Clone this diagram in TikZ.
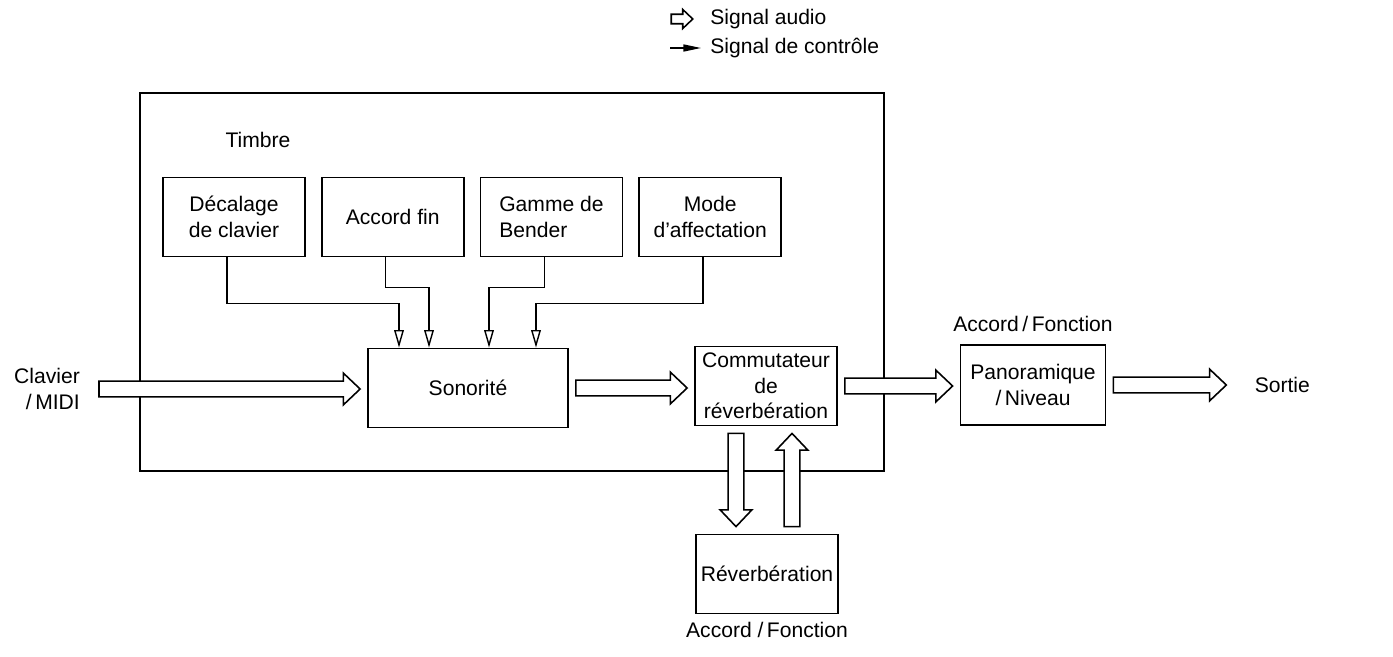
\documentclass[tikz,border=0pt,12pt]{standalone}
\usepackage{fontspec}
\setmainfont{Liberation Sans}
\usetikzlibrary{positioning,arrows.meta,calc}

\tikzset{
  block/.style={draw, line width=1pt, align=center, minimum width=2.84cm, minimum height=1.58cm, inner sep=2pt},
  ctrl/.style={line width=0.8pt, -{Triangle[open,width=5.5pt,length=10pt]}},
  audio/.style={draw, line width=0.9pt, fill=white, to path={
    let \p1=(\tikztostart), \p3=($(\tikztotarget)-(\tikztostart)$),
        \n1={atan2(\y3,\x3)}, \n2={veclen(\x3,\y3)} in
    ([shift={(\p1)},rotate=\n1]#1*4pt,#1*4.5pt)
    -- ([shift={(\p1)},rotate=\n1]\n2-#1*13.5pt,#1*4.5pt)
    -- ([shift={(\p1)},rotate=\n1]\n2-#1*13.5pt,#1*9pt)
    -- ([shift={(\p1)},rotate=\n1]\n2-#1*4pt,0pt)
    -- ([shift={(\p1)},rotate=\n1]\n2-#1*13.5pt,-#1*9pt)
    -- ([shift={(\p1)},rotate=\n1]\n2-#1*13.5pt,-#1*4.5pt)
    -- ([shift={(\p1)},rotate=\n1]#1*4pt,-#1*4.5pt) -- cycle}},
  audio/.default=1
}

\begin{document}
\begin{tikzpicture}[x=0.02cm,y=-0.02cm]
\useasboundingbox (0,0) rectangle (1393,656);
% legend
\node[anchor=west] (laudio) at (703,19) {Signal audio};
\node[anchor=west] (lctrl) at (703,48) {Signal de contrôle};
\draw[audio=0.6] ($(laudio.west)+(-36,0)$) to ($(laudio.west)+(-6,0)$);
\draw[line width=0.8pt, -{Triangle[width=4pt,length=10pt]}] ($(lctrl.west)+(-33,0)$) -- ($(lctrl.west)+(-2,0)$);
% Timbre frame
\draw[line width=1pt] (140,93) rectangle (884,471);
\node (timbre) at (258,140) {Timbre};
% parameter blocks
\node[block] (dec) at (234,217) {Décalage\\de clavier};
\node[block, right=0.3cm of dec] (acc) {Accord fin};
\node[block, right=0.3cm of acc, align=left] (gam) {Gamme de\\Bender};
\node[block, right=0.3cm of gam] (mod) {Mode\\d'affectation};
% signal chain
\node[block, minimum width=4cm] (son) at (468,388) {Sonorité};
\node[block] (com) at (766,386) {Commutateur\\de\\réverbération};
\node[block] (rev) at (767,574) {Réverbération};
\node[block, minimum width=2.9cm, minimum height=1.6cm] (pan) at (1033,385) {Panoramique\\/\,Niveau};
% labels
\node[align=right] (clav) at (47,389) {Clavier\\/\,MIDI};
\node[above=0.1cm of pan] (accpan) {Accord\,/\,Fonction};
\node[below=0pt of rev] (accrev) {Accord /\,Fonction};
\coordinate (outtip) at ($(pan.east)+(127,0)$);
\node[right=0.28cm of outtip] (sortie) {Sortie};
% control signals
\draw[ctrl] ([xshift=-4pt]dec.south) -- ++(0,46) -| ($(son.north)+(-69,0)$);
\draw[ctrl] ([xshift=-4pt]acc.south) -- ++(0,30) -| ($(son.north)+(-39,0)$);
\draw[ctrl] ([xshift=-4pt]gam.south) -- ++(0,30) -| ($(son.north)+(21,0)$);
\draw[ctrl] ([xshift=-4pt]mod.south) -- ++(0,46) -| ($(son.north)+(68,0)$);
% audio signals
\coordinate (intail) at (92,389);
\draw[audio] (intail) to (intail -| son.west);
\draw[audio] (son.east) to (son.east -| com.west);
\draw[audio] (com.east) to (com.east -| pan.west);
\draw[audio] (pan.east) to (outtip);
\coordinate (revin) at ($(com.south)+(-30,0)$);
\coordinate (revout) at ($(com.south)+(26,0)$);
\draw[audio] (revin) to (revin |- rev.north);
\draw[audio] (revout |- rev.north) to (revout);
\end{tikzpicture}
\end{document}
